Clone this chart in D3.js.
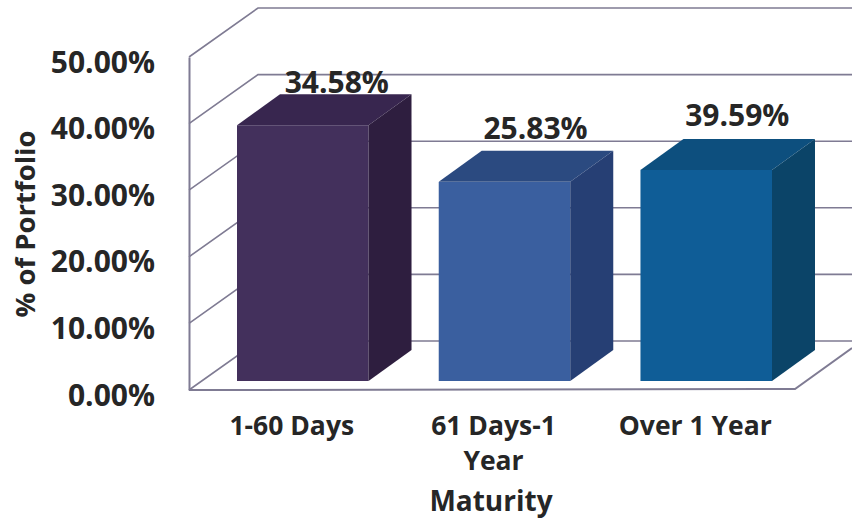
<!DOCTYPE html>
<html><head><meta charset="utf-8">
<script src="https://cdn.jsdelivr.net/npm/d3@7"></script>
<style>
html,body{margin:0;padding:0;background:#fff}
svg{display:block}
text{font-family:"Open Sans",sans-serif;font-weight:700;fill:#262626}
</style></head><body><div id="c"></div>
<script>
const categories = ["1-60 Days", "61 Days-1 Year", "Over 1 Year"];
const valueLabels = ["34.58%", "25.83%", "39.59%"];
const drawnHeights = [38.4, 29.9, 31.7];
const faceColors = ["#43305c", "#3a5f9f", "#0f5d97"];
const topColors = ["#38264f", "#2b4a80", "#0d4f7e"];
const sideColors = ["#2e1e3f", "#263f74", "#0b4468"];
const yTicks = [0, 10, 20, 30, 40, 50];

const W = 852, H = 521;
const svg = d3.select("#c").append("svg").attr("width", W).attr("height", H);

const y = d3.scaleLinear().domain([0, 50]).range([390, 57]);
const x = d3.scaleBand().domain(categories).range([237, 772]).paddingInner(0.348).paddingOuter(0);
const wallDx = 69, wallDy = -49, barDx = 43, barDy = -31, floorGap = 9;
const left = 189, floorRight = 795;
const lineColor = "#7f7b93";

// wall gridlines
const grid = svg.append("g").attr("fill", "none").attr("stroke", lineColor).attr("stroke-width", 1.6);
grid.selectAll("path.g").data(yTicks).join("path").attr("class", "g")
  .attr("d", d => `M${left},${y(d)}L${left + wallDx},${y(d) + wallDy}L${W},${y(d) + wallDy}`);
// floor
grid.append("path").attr("stroke-width", 2)
  .attr("d", `M${left},${y(0)}L${floorRight},${y(0) - 1}L${W},${y(0) - 42}`);

// bars
const bars = svg.append("g").selectAll("g").data(categories).join("g");
const top_ = i => y(drawnHeights[i]) - floorGap;
const bottom_ = y(0) - floorGap;
bars.append("rect")
  .attr("x", d => x(d)).attr("width", x.bandwidth())
  .attr("y", (d, i) => top_(i)).attr("height", (d, i) => bottom_ - top_(i))
  .attr("fill", (d, i) => faceColors[i]);
bars.append("path").attr("fill", (d, i) => topColors[i])
  .attr("d", (d, i) => {
    const a = x(d), b = a + x.bandwidth(), t = top_(i);
    return `M${a},${t}L${a + barDx},${t + barDy}L${b + barDx},${t + barDy}L${b},${t}Z`;
  });
bars.append("path").attr("fill", (d, i) => sideColors[i])
  .attr("d", (d, i) => {
    const b = x(d) + x.bandwidth(), t = top_(i);
    return `M${b},${t}L${b + barDx},${t + barDy}L${b + barDx},${bottom_ + barDy}L${b},${bottom_}Z`;
  });

// value labels
const labelOffsets = [-5, -16, -17];
svg.append("g").selectAll("text").data(categories).join("text")
  .attr("x", (d, i) => x(d) + x.bandwidth() / 2 + [34, 31, 31][i])
  .attr("y", (d, i) => top_(i) + barDy + labelOffsets[i] + 4)
  .attr("text-anchor", "middle").attr("font-size", 30)
  .text((d, i) => valueLabels[i]);

// y axis
const yAxis = svg.append("g").attr("transform", `translate(${left},0)`)
  .call(d3.axisLeft(y).tickValues(yTicks).tickSize(0).tickPadding(34).tickFormat(d => d3.format(".2f")(d) + "%"));
yAxis.select(".domain").attr("stroke", lineColor).attr("stroke-width", 2);
yAxis.selectAll("text").attr("font-size", 30).attr("dy", "0.5em").style("font-family", '"Open Sans",sans-serif');

// x axis
const xAxis = svg.append("g").attr("transform", `translate(-11,${y(0)})`)
  .call(d3.axisBottom(x).tickSize(0).tickPadding(45).tickFormat(""));
xAxis.select(".domain").remove();
xAxis.selectAll(".tick text").each(function (d) {
  const t = d3.select(this).attr("font-size", 26.5).style("font-family", '"Open Sans",sans-serif');
  const lines = d === "61 Days-1 Year" ? ["61 Days-1", "Year"] : [d];
  lines.forEach((s, i) => t.append("tspan").attr("x", 0).attr("dy", i ? 35 : 0).text(s));
});

svg.append("text").attr("x", 491).attr("y", 511).attr("text-anchor", "middle")
  .attr("font-size", 28).text("Maturity");
svg.append("text").attr("transform", "translate(35,224) rotate(-90)").attr("text-anchor", "middle")
  .attr("font-size", 27.5).text("% of Portfolio");
</script></body></html>
